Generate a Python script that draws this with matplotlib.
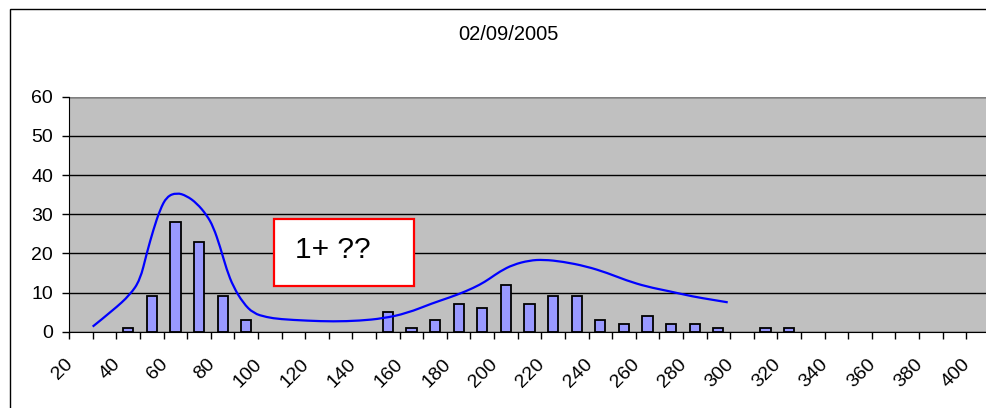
import numpy as np
import matplotlib
matplotlib.use('Agg')
import matplotlib.pyplot as plt
import matplotlib.patches as patches
import matplotlib.transforms as mtransforms
from matplotlib.path import Path

matplotlib.rc('font', family=['Liberation Sans', 'DejaVu Sans'])

# categories 20, 30, ..., 400
categories = list(range(20, 401, 10))
counts = [0, 0, 1, 9, 28, 23, 9, 3, 0, 0, 0, 0, 0, 5, 1, 3, 7, 6, 12, 7,
          9, 9, 3, 2, 4, 2, 2, 1, 0, 1, 1, 0, 0, 0, 0, 0, 0, 0, 0]
tick_labels = [str(c) if i % 2 == 0 else '' for i, c in enumerate(categories)]

# hand drawn curve, (category index, value) - used as control points
curve_x = [0.49, 1.36, 2.07, 2.5, 2.78, 3.06, 3.34, 3.63, 4.05, 4.47, 4.9, 5.32,
           5.6, 5.89, 6.17, 6.45, 6.87, 7.3, 7.86, 8.43, 9.6, 10.69, 11.8,
           12.8, 13.8, 14.9, 15.6, 16.3, 16.9, 17.3, 17.75, 18.3, 19.0, 19.6,
           20.4, 21.4, 22.3, 23.1, 23.97, 24.95, 25.9, 26.8, 27.4]
curve_y = [1.3, 5.5, 9.4, 13.2, 20.0, 26.0, 31.1, 34.5, 35.5, 34.7, 32.8, 29.8,
           26.8, 21.7, 15.8, 11.5, 7.3, 4.7, 3.7, 3.2, 2.8, 2.6, 2.8,
           3.4, 4.7, 7.3, 8.7, 10.3, 12.0, 13.5, 15.4, 17.1, 18.2, 18.4,
           17.9, 16.7, 15.0, 13.1, 11.5, 10.3, 9.0, 8.1, 7.5]

note_text = '1+ ??'
title_text = '02/09/2005'

W, H = 987, 408
fig = plt.figure(figsize=(W / 100, H / 100), dpi=100)
fig.patch.set_facecolor('white')

# chart area border
fig.add_artist(patches.Rectangle((10 / W, -0.1), 1.0, 1.1 - 9 / H,
                                 transform=fig.transFigure, fill=False,
                                 edgecolor='black', linewidth=1.0))

ax = fig.add_axes([69.3 / W, 1 - 331.7 / H, 920.4 / W, (331.7 - 96.7) / H])
ax.set_facecolor('#C0C0C0')

x = np.arange(len(categories))
bx = [xi for xi, c in zip(x, counts) if c > 0]
bh = [c for c in counts if c > 0]
ax.bar(bx, bh, width=0.43, color='#9999FF', edgecolor='black', linewidth=1.3, zorder=3)

# smooth curve: quadratic segments through midpoints of the control points
pts = list(zip(curve_x, curve_y))
verts = [pts[0]]
codes = [Path.MOVETO]
for i in range(1, len(pts) - 1):
    mid = ((pts[i][0] + pts[i + 1][0]) / 2, (pts[i][1] + pts[i + 1][1]) / 2)
    if i == len(pts) - 2:
        mid = pts[-1]
    verts += [pts[i], mid]
    codes += [Path.CURVE3, Path.CURVE3]
ax.add_patch(patches.PathPatch(Path(verts, codes), fill=False, edgecolor='#0000FF',
                               linewidth=1.6, zorder=4))

ax.set_xlim(-0.5, len(categories) - 0.5)
ax.set_ylim(0, 60)
ax.set_yticks(np.arange(0, 61, 10))
ax.yaxis.grid(True, color='black', linewidth=1.0, zorder=1)
ax.set_axisbelow(True)

ax.set_xticks(x)
ax.set_xticklabels(tick_labels, rotation=45, ha='right', va='center',
                   rotation_mode='anchor', fontsize=14)
ax.set_xticks(np.arange(-0.5, len(categories), 1.0), minor=True)
ax.tick_params(axis='x', which='major', length=0, pad=21.5)
ax.tick_params(axis='x', which='minor', length=4.8, width=1.0, color='black', direction='out')
ax.tick_params(axis='y', length=4.8, width=1.0, direction='out', labelsize=14, pad=7)
offset = mtransforms.ScaledTranslation(-10.8 / 100, 0, fig.dpi_scale_trans)
for lbl in ax.get_xticklabels():
    lbl.set_transform(lbl.get_transform() + offset)

for side in ['top', 'right']:
    ax.spines[side].set_visible(False)
ax.spines['left'].set_color('black')
ax.spines['bottom'].set_color('black')
ax.spines['bottom'].set_zorder(5)
ax.axhline(60, color='#808080', linewidth=1.0)

fig.text(508 / W, 1 - 35 / H, title_text, ha='center', va='center', fontsize=14.5)

# note box
fig.add_artist(patches.Rectangle((274 / W, 1 - 285.7 / H), 140 / W, 66.4 / H,
                                 transform=fig.transFigure, facecolor='white',
                                 edgecolor='red', linewidth=1.6, zorder=6))
fig.text(295 / W, 1 - 250 / H, note_text, ha='left', va='center', fontsize=21.5, zorder=7)

fig.savefig('out.png', dpi=100)
